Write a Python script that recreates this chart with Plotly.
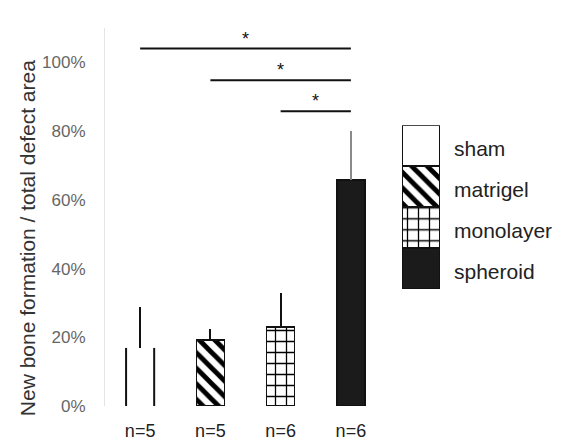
import plotly.graph_objects as go

# Bone regeneration per treatment group
groups = ["sham", "matrigel", "monolayer", "spheroid"]
n_labels = ["n=5", "n=5", "n=6", "n=6"]
mean_vals = [0.169, 0.192, 0.230, 0.657]
err_plus = [0.119, 0.032, 0.098, 0.143]
err_colors = ["#111111", "#111111", "#111111", "#8a8a8a"]

# Significance brackets: (from group, to group), bracket height, label
sig_pairs = [(0, 3), (1, 3), (2, 3)]
sig_heights = [1.04, 0.948, 0.858]
sig_text = ["*", "*", "*"]

y_tick_vals = [0, 0.2, 0.4, 0.6, 0.8, 1.0]
y_tick_text = ["0%", "20%", "40%", "60%", "80%", "100%"]
y_title = "New bone formation / total defect area"

# Fill style for each group
fills = {
    "sham": dict(color="white", pattern=dict(shape="")),
    "matrigel": dict(color="white", pattern=dict(shape="\\", size=11, solidity=0.45,
                                                   fgcolor="#000000", bgcolor="white",
                                                   fgopacity=1)),
    "monolayer": dict(color="white", pattern=dict(shape="+", size=11, solidity=0.22,
                                                    fgcolor="#000000", bgcolor="white",
                                                    fgopacity=1)),
    "spheroid": dict(color="#1b1b1b", pattern=dict(shape="")),
}

BAR_W = 0.4
W, H = 567, 445
L, R, T, B = 105, 122, 27.6, 39
plot_w = W - L - R
plot_h = H - T - B
main_right = 281 / plot_w
key_x0 = (402 - L) / plot_w
key_x1 = (440 - L) / plot_w
key_label_x = (452 - L) / plot_w

fig = go.Figure()

for i, g in enumerate(groups):
    f = fills[g]
    line_w = 0 if g == "sham" else 1.5
    fig.add_trace(go.Bar(
        x=[i], y=[mean_vals[i]], width=BAR_W,
        marker=dict(color=f["color"], pattern=f["pattern"],
                    line=dict(color="#111111", width=line_w)),
        error_y=dict(type="data", symmetric=False, array=[err_plus[i]],
                     arrayminus=[0], color=err_colors[i], thickness=2, width=0),
        showlegend=False, xaxis="x", yaxis="y",
    ))

# Sham bar is drawn open: only its two side walls
sx, sy = [], []
for side in (-1, 1):
    sx += [0 + side * BAR_W / 2, 0 + side * BAR_W / 2, None]
    sy += [0, mean_vals[0], None]
fig.add_trace(go.Scatter(x=sx, y=sy, mode="lines",
                         line=dict(color="#111111", width=2),
                         showlegend=False, hoverinfo="skip", xaxis="x", yaxis="y"))

# Significance brackets
for (a, b), h, t in zip(sig_pairs, sig_heights, sig_text):
    fig.add_shape(type="line", xref="x", yref="y", x0=a, x1=b, y0=h, y1=h,
                  line=dict(color="#111111", width=2))
    fig.add_annotation(x=(a + b) / 2, y=h, xref="x", yref="y", text=t,
                       showarrow=False, yanchor="bottom", yshift=-2,
                       font=dict(size=18, color="#111111", family="Arial"))

# Key drawn as a stacked column on its own axes
n_keys = len(groups)
for i in reversed(range(n_keys)):
    g = groups[i]
    f = fills[g]
    fig.add_trace(go.Bar(
        x=[0], y=[1], width=1,
        marker=dict(color=f["color"], pattern=f["pattern"],
                    line=dict(color="#111111", width=2)),
        showlegend=False, xaxis="x2", yaxis="y2", hoverinfo="skip",
    ))
    fig.add_annotation(x=key_label_x, xref="paper", y=n_keys - i - 0.5, yref="y2",
                       text=g, showarrow=False, xanchor="left", yshift=-3,
                       font=dict(size=21, color="#222222", family="Arial"))

# Rotated y-axis caption
fig.add_annotation(x=(27 - L) / plot_w, xref="paper", y=(406 - 238) / plot_h, yref="paper",
                   text=y_title, textangle=-90, showarrow=False,
                   xanchor="center", yanchor="middle",
                   font=dict(size=21, color="#333333", family="Arial"))

fig.update_layout(
    width=W, height=H,
    margin=dict(l=L, r=R, t=T, b=B),
    paper_bgcolor="white", plot_bgcolor="white",
    barmode="stack",
    font=dict(family="Arial", color="#222222"),
    xaxis=dict(domain=[0, main_right], range=[-0.5, 3.5],
               tickvals=list(range(n_keys)), ticktext=n_labels,
               tickfont=dict(size=18, color="#222222"),
               showline=False, showgrid=False, zeroline=False, ticks="",
               ticklabelstandoff=12, automargin=False),
    yaxis=dict(range=[0, 1.1], tickvals=y_tick_vals, ticktext=y_tick_text,
               tickfont=dict(size=17, color="#666666"),
               showline=True, linecolor="#e4e4e4", linewidth=1,
               showgrid=False, zeroline=False, ticks="", ticklabelstandoff=15,
               automargin=False),
    xaxis2=dict(domain=[key_x0, key_x1], range=[-0.5, 0.5],
                visible=False, anchor="y2"),
    yaxis2=dict(domain=[(406 - 289) / plot_h, (406 - 125) / plot_h],
                range=[0, n_keys], visible=False, anchor="x2"),
)

fig.write_html("out.html")
